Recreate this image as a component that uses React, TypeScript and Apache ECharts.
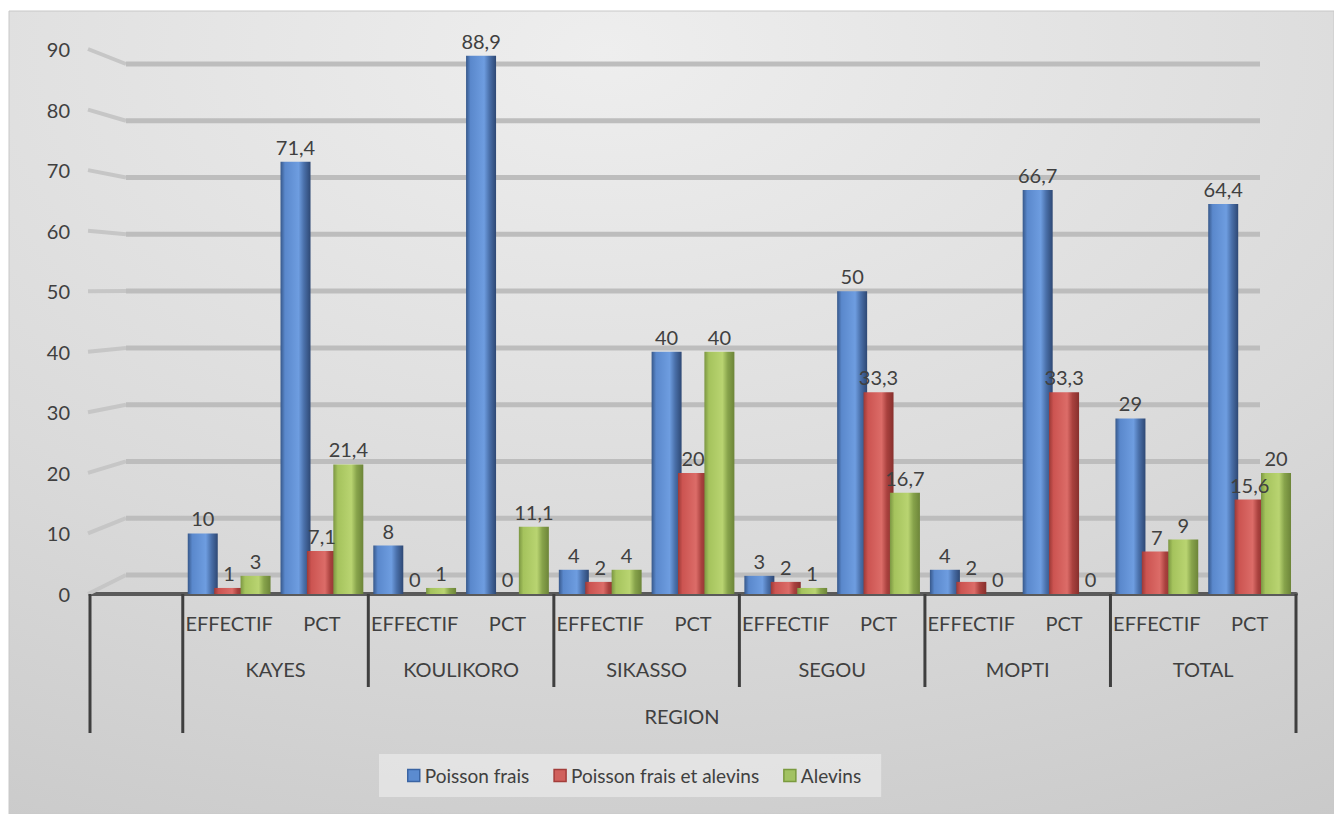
import React, { useEffect, useRef } from "react";
import * as echarts from "echarts";

const regions = ["KAYES", "KOULIKORO", "SIKASSO", "SEGOU", "MOPTI", "TOTAL"];
const subLabels = ["EFFECTIF", "PCT"];
const categories: string[] = [""].concat(...regions.map(() => subLabels));
const categoryRegions: string[] = [""].concat(...regions.map((r) => subLabels.map(() => r)));

const seriesNames = ["Poisson frais", "Poisson frais et alevins", "Alevins"];
const poissonFrais = [null, 10, 71.4, 8, 88.9, 4, 40, 3, 50, 4, 66.7, 29, 64.4];
const poissonFraisEtAlevins = [null, 1, 7.1, 0, 0, 2, 20, 2, 33.3, 2, 33.3, 7, 15.6];
const alevins = [null, 3, 21.4, 1, 11.1, 4, 40, 1, 16.7, 0, 0, 9, 20];
const yTicks = [0, 10, 20, 30, 40, 50, 60, 70, 80, 90];
const axisTitle = "REGION";

const FONT = "Lato";
const TEXT = "#404040";
const FS = 20;

const barGradients = [
  ["#37588a", "#5a88cc", "#6e9de0", "#4a70aa", "#2e4874"],
  ["#9c3936", "#cc5451", "#dc6c68", "#a9413e", "#87302d"],
  ["#7b9642", "#a5c35d", "#b9d471", "#87a34b", "#6d8539"],
];
const legendFill = ["#5b8bd0", "#d0605c", "#a2c262"];
const legendBorder = ["#3a64a3", "#a33d3a", "#7a9a3e"];

function grad(c: string[]) {
  return new echarts.graphic.LinearGradient(1, 0, 0, 0, [
    { offset: 0, color: c[4] },
    { offset: 0.22, color: c[3] },
    { offset: 0.4, color: c[2] },
    { offset: 0.85, color: c[1] },
    { offset: 1, color: c[0] },
  ]);
}

// region axis: half-slot resolution points (boundaries and centres)
const regionAxisData: string[] = [];
for (let j = 0; j <= categories.length * 2; j++) {
  let label = "";
  if (j % 2 === 0) {
    const b = j / 2;
    if (b > 0 && b < categories.length && categoryRegions[b] && categoryRegions[b] === categoryRegions[b - 1]) {
      label = categoryRegions[b];
    }
  }
  regionAxisData.push(label);
}

const fmt = (v: any) => (v == null ? "" : String(v).replace(".", ","));

export default function App() {
  const ref = useRef<HTMLDivElement>(null);
  useEffect(() => {
    if (!ref.current) return;
    const chart = echarts.init(ref.current, null, { renderer: "svg" });
    const dataSets = [poissonFrais, poissonFraisEtAlevins, alevins];
    const depthX = 36;
    const depthY = 19;
    const backScale = 511 / 545;

    const option: any = {
      animation: false,
      textStyle: { fontFamily: FONT },
      graphic: [
        {
          type: "rect",
          z: -10,
          silent: true,
          shape: { x: 9, y: 11, width: 1325, height: 803 },
          style: {
            fill: new echarts.graphic.RadialGradient(0.45, 0.05, 1.3, [
              { offset: 0, color: "#eeeeee" },
              { offset: 0.5, color: "#dadada" },
              { offset: 1, color: "#c2c2c2" },
            ]),
            stroke: "#c8c8c8",
            lineWidth: 1,
          },
        },
      ],
      grid: { left: 90, right: 38, top: 49, bottom: 220, containLabel: false },
      legend: {
        data: seriesNames.map((n, i) => ({
          name: n,
          itemStyle: { color: legendFill[i], borderColor: legendBorder[i], borderWidth: 1.5 },
        })),
        left: 379,
        top: 754,
        padding: [12, 20, 12, 28],
        itemGap: 24,
        itemWidth: 12,
        itemHeight: 12,
        icon: "rect",
        backgroundColor: "rgba(238,238,238,0.6)",
        textStyle: { fontSize: 19, color: TEXT, fontFamily: FONT },
      },
      xAxis: [
        {
          type: "category",
          data: categories,
          axisLine: { lineStyle: { color: "#5a5a5a", width: 4 } },
          axisTick: { show: false },
          axisLabel: { interval: 0, color: TEXT, fontSize: FS, fontFamily: FONT, margin: 19 },
          name: axisTitle,
          nameLocation: "middle",
          nameGap: 112,
          nameTextStyle: { color: TEXT, fontSize: FS, fontFamily: FONT, padding: [0, 22, 0, 0] },
        },
        {
          type: "category",
          data: regionAxisData,
          boundaryGap: false,
          position: "bottom",
          offset: 47,
          axisLine: { show: false },
          axisTick: { show: false },
          axisLabel: { interval: 0, color: TEXT, fontSize: FS, fontFamily: FONT, margin: 18 },
        },
      ],
      yAxis: {
        type: "value",
        min: 0,
        max: 90,
        interval: 10,
        axisLine: { show: false },
        axisTick: { show: false },
        splitLine: { show: false },
        axisLabel: { color: TEXT, fontSize: FS, fontFamily: FONT, margin: 20 },
      },
      series: [
        {
          type: "custom",
          name: "grid3d",
          silent: true,
          clip: false,
          z: 1,
          data: yTicks.map((v) => [0, v]),
          renderItem: (params: any, api: any) => {
            const v = api.value(1);
            const cs = params.coordSys;
            const yFront = api.coord([0, v])[1];
            const yBase = api.coord([0, 0])[1];
            const yBack = yBase - depthY - (yBase - yFront) * backScale;
            return {
              type: "group",
              children: [
                {
                  type: "line",
                  shape: { x1: cs.x - 2, y1: yFront, x2: cs.x + depthX, y2: yBack },
                  style: { stroke: "#c6c6c6", lineWidth: 4 },
                },
                {
                  type: "line",
                  shape: { x1: cs.x + depthX, y1: yBack, x2: cs.x + cs.width - depthX, y2: yBack },
                  style: { stroke: "#bdbdbd", lineWidth: 5 },
                },
              ],
            };
          },
        },
        ...dataSets.map((d, i) => ({
          type: "bar",
          name: seriesNames[i],
          data: d,
          barWidth: 30,
          barGap: "-12%",
          z: 2,
          itemStyle: { color: grad(barGradients[i]) },
          label: {
            show: true,
            position: "top",
            distance: 5,
            color: TEXT,
            fontSize: FS,
            fontFamily: FONT,
            formatter: (p: any) => fmt(p.value),
          },
        })),
        {
          type: "custom",
          name: "table",
          silent: true,
          clip: false,
          z: 3,
          data: categories.map((_, i) => [i, 0]),
          renderItem: (params: any, api: any) => {
            const i = params.dataIndex;
            const pt = api.coord([i, 0]);
            const w = api.size([1, 0])[0];
            const y0 = pt[1];
            const children: any[] = [];
            const mk = (x: number, len: number) => ({
              type: "line",
              shape: { x1: x, y1: y0, x2: x, y2: y0 + len },
              style: { stroke: "#3f3f3f", lineWidth: 3 },
            });
            const isStart = i === 0 || i === 1 || categoryRegions[i] !== categoryRegions[i - 1];
            if (isStart) children.push(mk(pt[0] - w / 2, i <= 1 ? 139 : 93));
            if (i === categories.length - 1) children.push(mk(pt[0] + w / 2, 139));
            return { type: "group", children };
          },
        },
      ],
    };
    chart.setOption(option);
    return () => chart.dispose();
  }, []);
  return (
    <div
      ref={ref}
      style={{ position: "fixed", left: 0, top: 0, width: 1334, height: 814, background: "#ffffff" }}
    />
  );
}
